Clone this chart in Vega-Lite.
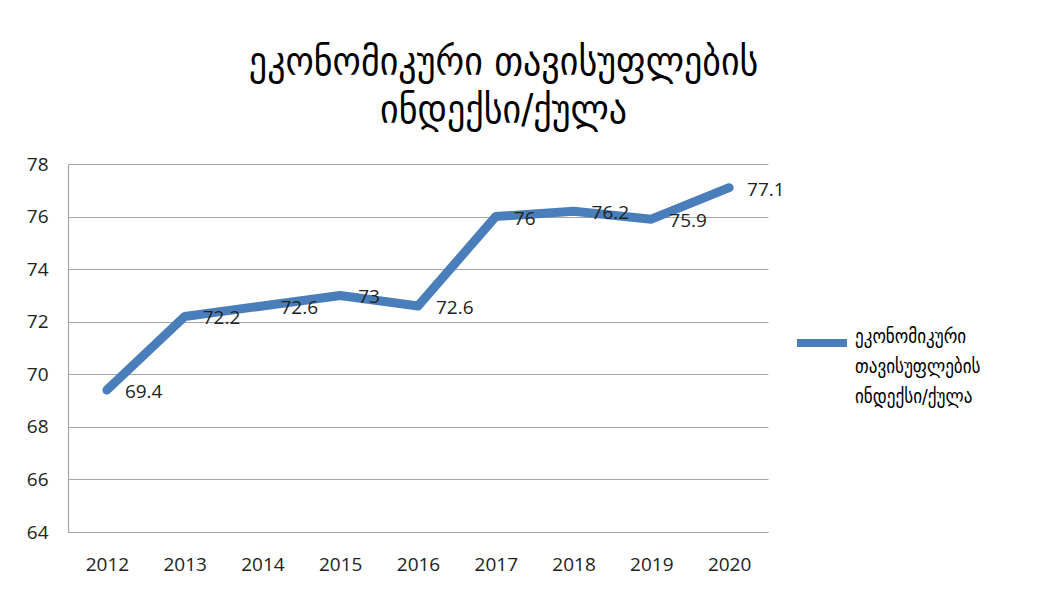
{
  "$schema": "https://vega.github.io/schema/vega-lite/v6.json",
  "width": 700,
  "height": 368,
  "padding": {"left": 26, "top": 43, "right": 10, "bottom": 10},
  "background": "white",
  "title": {
    "text": ["ეკონომიკური თავისუფლების", "ინდექსი/ქულა"],
    "anchor": "middle",
    "frame": "bounds",
    "font": "DejaVu Sans Condensed",
    "fontSize": 40,
    "fontWeight": "normal",
    "lineHeight": 48,
    "color": "#000000",
    "offset": 24
  },
  "data": {
    "values": [
      {"year": "2012", "value": 69.4, "series": "ეკონომიკური თავისუფლების ინდექსი/ქულა"},
      {"year": "2013", "value": 72.2, "series": "ეკონომიკური თავისუფლების ინდექსი/ქულა"},
      {"year": "2014", "value": 72.6, "series": "ეკონომიკური თავისუფლების ინდექსი/ქულა"},
      {"year": "2015", "value": 73.0, "series": "ეკონომიკური თავისუფლების ინდექსი/ქულა"},
      {"year": "2016", "value": 72.6, "series": "ეკონომიკური თავისუფლების ინდექსი/ქულა"},
      {"year": "2017", "value": 76.0, "series": "ეკონომიკური თავისუფლების ინდექსი/ქულა"},
      {"year": "2018", "value": 76.2, "series": "ეკონომიკური თავისუფლების ინდექსი/ქულა"},
      {"year": "2019", "value": 75.9, "series": "ეკონომიკური თავისუფლების ინდექსი/ქულა"},
      {"year": "2020", "value": 77.1, "series": "ეკონომიკური თავისუფლების ინდექსი/ქულა"}
    ]
  },
  "encoding": {
    "x": {
      "field": "year",
      "type": "ordinal",
      "scale": {"type": "point", "padding": 0.5},
      "axis": {
        "title": null,
        "labelAngle": 0,
        "ticks": false,
        "labelPadding": 23,
        "labelFont": "Open Sans",
        "labelFontSize": 19,
        "labelColor": "#222222",
        "domainColor": "#a6a6a6",
        "domainWidth": 1.2,
        "grid": false
      }
    },
    "y": {
      "field": "value",
      "type": "quantitative",
      "scale": {"domain": [64, 78], "nice": false, "zero": false},
      "axis": {
        "title": null,
        "values": [64, 66, 68, 70, 72, 74, 76, 78],
        "ticks": false,
        "labelPadding": 20,
        "labelFont": "Open Sans",
        "labelFontSize": 19,
        "labelColor": "#222222",
        "domainColor": "#a6a6a6",
        "domainWidth": 1.2,
        "grid": true,
        "gridColor": "#a6a6a6",
        "gridWidth": 1.2
      }
    }
  },
  "layer": [
    {
      "mark": {"type": "line", "strokeWidth": 9, "strokeCap": "round", "strokeJoin": "round"},
      "encoding": {
        "color": {
          "field": "series",
          "type": "nominal",
          "scale": {"range": ["#4a7ebb"]},
          "legend": {
            "title": null,
            "orient": "none",
            "legendX": 725,
            "legendY": 150,
            "symbolType": "stroke",
            "symbolSize": 2500,
            "symbolStrokeWidth": 8,
            "labelFont": "DejaVu Sans Condensed",
            "labelFontSize": 19,
            "labelColor": "#000000",
            "labelOffset": 4,
            "labelLimit": 300,
            "labelBaseline": "alphabetic",
            "labelExpr": "['ეკონომიკური', 'თავისუფლების', 'ინდექსი/ქულა']"
          }
        }
      }
    },
    {
      "mark": {"type": "text", "align": "left", "baseline": "middle", "dx": 18, "dy": 2, "font": "Open Sans", "fontSize": 19, "color": "#222222"},
      "encoding": {"text": {"field": "value", "type": "quantitative", "format": ".1~f"}}
    }
  ],
  "config": {
    "view": {"stroke": null},
    "style": {"guide-label": {"lineHeight": 30}}
  }
}
